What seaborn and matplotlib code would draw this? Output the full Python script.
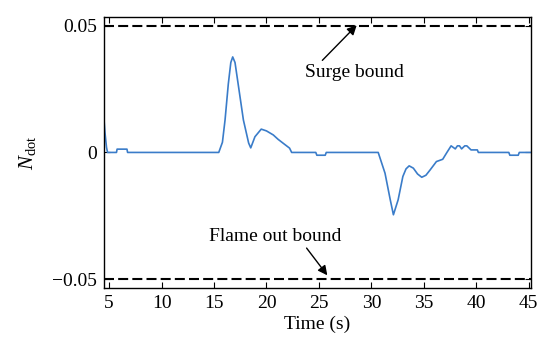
import numpy as np
import pandas as pd
import matplotlib
matplotlib.use("Agg")
import matplotlib.pyplot as plt
import seaborn as sns

# ---- data ----
time_s = [4.5, 4.6, 4.75, 4.85, 5.7, 5.76, 6.7, 6.76,
          15.45, 15.8, 16.05, 16.36, 16.6, 16.78, 17.0, 17.3, 17.8, 18.3, 18.5, 18.9, 19.5, 20.0,
          20.65, 21.1, 21.6, 22.2, 22.4,
          24.7, 24.8, 25.6, 25.7,
          30.65, 31.3, 31.8, 32.1, 32.55, 33.0, 33.3, 33.6, 34.0, 34.4, 34.8, 35.2, 35.6,
          36.2, 36.8, 37.2, 37.6, 38.0, 38.2, 38.4, 38.6, 38.9, 39.1, 39.4, 39.5, 40.1, 40.2,
          43.1, 43.2, 44.0, 44.1, 45.2]
n_dot = [0.0136, 0.008, 0.002, 0.0, 0.0, 0.0013, 0.0013, 0.0,
         0.0, 0.004, 0.0128, 0.027, 0.0355, 0.0377, 0.0355, 0.027, 0.0128, 0.0037, 0.0018, 0.0062, 0.0092, 0.0085,
         0.0069, 0.0052, 0.0036, 0.0017, 0.0,
         0.0, -0.0011, -0.0011, 0.0,
         0.0, -0.0082, -0.0187, -0.0246, -0.0187, -0.0095, -0.0065, -0.0053, -0.0062, -0.0085, -0.0098, -0.009, -0.0069,
         -0.0036, -0.0027, 0.0, 0.0026, 0.0014, 0.0026, 0.0026, 0.0014, 0.0026, 0.0026, 0.0014, 0.0010, 0.0010, 0.0,
         0.0, -0.0011, -0.0011, 0.0, 0.0]
surge_bound = 0.05
flame_out_bound = -0.05
x_ticks = [5, 10, 15, 20, 25, 30, 35, 40, 45]
y_ticks = [-0.05, 0, 0.05]
y_tick_labels = ["\u22120.05", "0", "0.05"]

df = pd.DataFrame({"Time (s)": time_s, "N_dot": n_dot})

sns.set_style("ticks")
plt.rcParams["font.family"] = ["Liberation Serif", "DejaVu Serif"]
plt.rcParams["mathtext.fontset"] = "custom"
plt.rcParams["mathtext.rm"] = "Liberation Serif"
plt.rcParams["mathtext.it"] = "Liberation Serif:italic"
plt.rcParams["text.color"] = "black"
plt.rcParams["axes.labelcolor"] = "black"
plt.rcParams["xtick.color"] = "black"
plt.rcParams["ytick.color"] = "black"

fig = plt.figure(figsize=(5.45, 3.38), dpi=100)
ax = fig.add_axes([0.191, 0.148, 0.783, 0.802])

sns.lineplot(data=df, x="Time (s)", y="N_dot", ax=ax, color="#3a7cc9",
             linewidth=1.2, estimator=None, sort=False)
ax.axhline(surge_bound, color="black", linewidth=1.5, dashes=(4.8, 2.0))
ax.axhline(flame_out_bound, color="black", linewidth=1.5, dashes=(4.8, 2.0))

ax.set_xlim(4.52, 45.2)
ax.set_ylim(-0.0535, 0.0535)
ax.set_xticks(x_ticks)
ax.set_xticklabels([str(v) for v in x_ticks])
ax.set_yticks(y_ticks)
ax.set_yticklabels(y_tick_labels)
ax.tick_params(direction="in", top=True, right=True, length=4, width=0.8,
               labelsize=14, colors="black", pad=5)
for s in ax.spines.values():
    s.set_color("black")
    s.set_linewidth(1.0)

ax.set_xlabel("Time (s)", fontsize=14, labelpad=3, color="black")
ax.set_ylabel(r"$\mathit{N}_{\mathrm{dot}}$", fontsize=15, labelpad=10, color="black")

ax.annotate("Surge bound", xy=(28.6, 0.0502), xytext=(23.7, 0.0317),
            fontsize=14, va="center", ha="left", color="black",
            arrowprops=dict(arrowstyle="-|>", color="black", lw=1.0,
                            mutation_scale=14, shrinkA=0, shrinkB=0,
                            relpos=(0.14, 1.0)))
ax.annotate("Flame out bound", xy=(25.8, -0.0485), xytext=(14.5, -0.0331),
            fontsize=14, va="center", ha="left", color="black",
            arrowprops=dict(arrowstyle="-|>", color="black", lw=1.0,
                            mutation_scale=14, shrinkA=0, shrinkB=0,
                            relpos=(0.72, 0.0)))

fig.savefig("out.png", dpi=100)
